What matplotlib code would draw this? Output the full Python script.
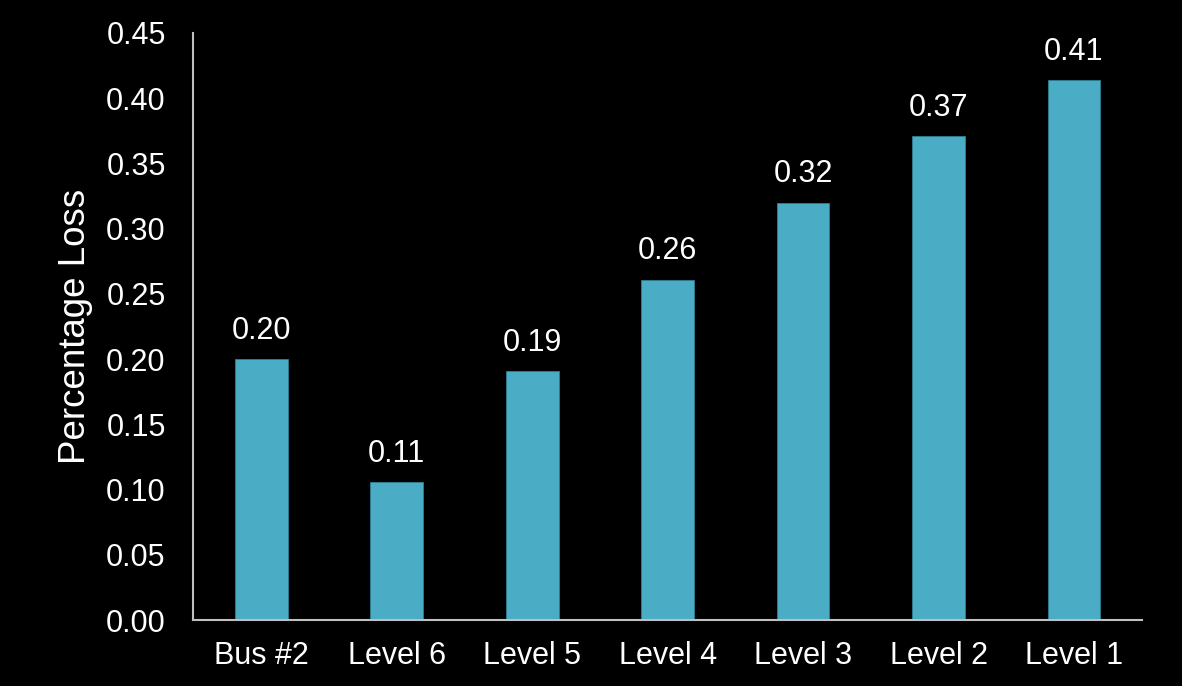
import matplotlib
matplotlib.use("Agg")
import matplotlib.pyplot as plt

categories = ["Bus #2", "Level 6", "Level 5", "Level 4", "Level 3", "Level 2", "Level 1"]
loss = [0.200, 0.106, 0.191, 0.261, 0.320, 0.371, 0.414]
y_ticks = [0.00, 0.05, 0.10, 0.15, 0.20, 0.25, 0.30, 0.35, 0.40, 0.45]

plt.rcParams["font.family"] = ["Liberation Sans", "DejaVu Sans"]

fig = plt.figure(figsize=(11.82, 6.86), dpi=100, facecolor="black")
ax = fig.add_axes([0.1637, 0.0962, 0.8022, 0.8557], facecolor="black")

x = list(range(len(categories)))
bars = ax.bar(x, loss, width=0.39, color="#4BACC6", edgecolor="#2E7F96", linewidth=0.6)

for xi, v in zip(x, loss):
    ax.annotate(f"{v:.2f}", (xi, v), xytext=(0, 9.5), textcoords="offset points",
                ha="center", va="bottom", color="white", fontsize=22)

ax.set_xlim(-0.5, len(categories) - 0.5)
ax.set_ylim(0, 0.45)
ax.set_xticks(x)
ax.set_xticklabels(categories)
ax.set_yticks(y_ticks)
ax.set_yticklabels([f"{t:.2f}" for t in y_ticks])
ax.tick_params(axis="both", length=0, colors="white", labelsize=22)
ax.tick_params(axis="y", pad=20)
ax.tick_params(axis="x", pad=15)
ax.set_ylabel("Percentage Loss", color="white", fontsize=26.5, labelpad=9)

for side in ("top", "right"):
    ax.spines[side].set_visible(False)
for side in ("left", "bottom"):
    ax.spines[side].set_color("#BFBFBF")
    ax.spines[side].set_linewidth(1.5)

fig.savefig("out.png", dpi=100, facecolor="black")
